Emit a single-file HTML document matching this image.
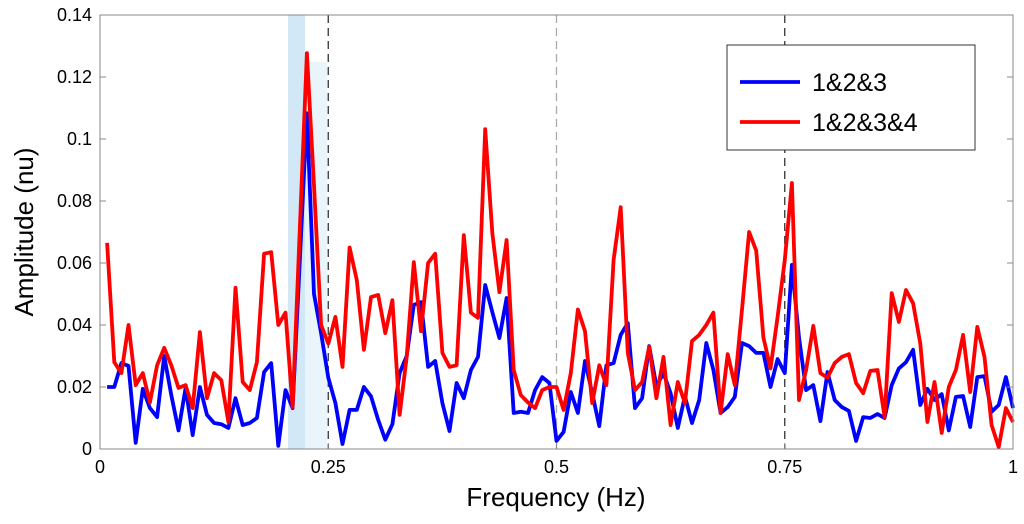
<!DOCTYPE html>
<html><head><meta charset="utf-8"><style>
body{margin:0;background:#fff;width:1024px;height:519px;overflow:hidden;font-family:"Liberation Sans",sans-serif}
</style></head><body>
<svg id="chart" width="1024" height="519" xmlns="http://www.w3.org/2000/svg" font-family="Liberation Sans, sans-serif">
<rect x="100" y="15" width="913" height="434" fill="#fff"/>
<rect x="288" y="15" width="17" height="434" fill="#d3e8f7"/>
<rect x="305" y="62" width="22" height="387" fill="#eaf4fb"/>
<g id="grid"></g>
<g id="series"></g>
<rect x="100" y="15" width="913" height="434" fill="none" stroke="#888" stroke-width="1"/>
<g id="ticks"></g>
<text x="556" y="506" font-size="26" text-anchor="middle">Frequency (Hz)</text>
<text transform="translate(33,232) rotate(-90)" font-size="26" text-anchor="middle">Amplitude (nu)</text>
<g>
<rect x="727" y="45" width="248" height="105" fill="#fff" stroke="#333" stroke-width="1"/>
<line x1="740" y1="82" x2="800" y2="82" stroke="#0000ff" stroke-width="3.8"/>
<text x="812" y="91" font-size="25">1&amp;2&amp;3</text>
<line x1="740" y1="122" x2="800" y2="122" stroke="#ff0000" stroke-width="3.8"/>
<text x="812" y="131" font-size="25">1&amp;2&amp;3&amp;4</text>
</g>
</svg>
<script>
const yTicks=[0,0.02,0.04,0.06,0.08,0.1,0.12,0.14];
const yTickLabels=["0","0.02","0.04","0.06","0.08","0.1","0.12","0.14"];
const xTicks=[0,0.25,0.5,0.75,1];
const xTickLabels=["0","0.25","0.5","0.75","1"];
const markerFreqs=[0.25,0.5,0.75];
const blueValues=[0.020,0.020,0.0277,0.0268,0.002,0.0194,0.0132,0.0103,0.030,0.0174,0.006,0.0197,0.0045,0.020,0.011,0.0084,0.008,0.0068,0.0164,0.0077,0.0084,0.010,0.0248,0.0277,0.001,0.019,0.0132,0.060,0.1083,0.050,0.0374,0.023,0.0148,0.0016,0.0126,0.0126,0.020,0.017,0.0094,0.003,0.008,0.0245,0.030,0.0465,0.0474,0.0265,0.0284,0.0148,0.0058,0.0213,0.0164,0.0255,0.0297,0.0529,0.0442,0.0358,0.0487,0.0116,0.012,0.0116,0.019,0.0232,0.0213,0.0026,0.0055,0.0184,0.0116,0.0284,0.018,0.0074,0.027,0.0277,0.0368,0.0406,0.0132,0.0164,0.0332,0.0203,0.0245,0.018,0.0068,0.017,0.0084,0.0158,0.0342,0.0255,0.0116,0.0135,0.0168,0.0342,0.0332,0.031,0.031,0.020,0.029,0.0245,0.0594,0.036,0.019,0.0206,0.009,0.0248,0.0158,0.0135,0.0123,0.0026,0.0103,0.010,0.0113,0.010,0.0206,0.026,0.028,0.032,0.0142,0.0194,0.0158,0.0177,0.006,0.0168,0.0171,0.0071,0.0232,0.0235,0.012,0.0142,0.0232,0.0132];
const redValues=[0.0665,0.028,0.0245,0.040,0.0206,0.0245,0.015,0.027,0.0326,0.027,0.0197,0.0206,0.0132,0.0377,0.0164,0.0245,0.0222,0.0087,0.052,0.0216,0.019,0.028,0.063,0.0635,0.040,0.044,0.0135,0.070,0.1277,0.085,0.040,0.034,0.0426,0.0265,0.065,0.0545,0.032,0.049,0.0497,0.0374,0.048,0.011,0.0297,0.0603,0.038,0.060,0.063,0.031,0.0265,0.027,0.069,0.044,0.0423,0.1032,0.0697,0.0506,0.0674,0.0255,0.0174,0.015,0.0132,0.019,0.020,0.020,0.0126,0.0245,0.045,0.038,0.0148,0.027,0.0206,0.061,0.078,0.031,0.019,0.0216,0.033,0.0164,0.0297,0.0077,0.0216,0.0148,0.0348,0.0368,0.040,0.044,0.0116,0.0306,0.0206,0.045,0.070,0.064,0.036,0.026,0.0426,0.061,0.0858,0.0158,0.0255,0.0397,0.0245,0.023,0.0277,0.0297,0.0306,0.0213,0.018,0.0252,0.0255,0.0103,0.0503,0.041,0.0513,0.047,0.034,0.0087,0.0216,0.0052,0.020,0.0255,0.0368,0.0184,0.0394,0.0297,0.0077,0.0006,0.0132,0.0087];
const NS="http://www.w3.org/2000/svg";
const X0=100,X1=1013,Y0=449,Y1=15,YMAX=0.14;
function xs(f){return X0+f*(X1-X0);}
function ys(v){return Y0-v/YMAX*(Y0-Y1);}
function mk(t,a,p){const e=document.createElementNS(NS,t);for(const k in a)e.setAttribute(k,a[k]);p.appendChild(e);return e;}
const grid=document.getElementById('grid'),ticks=document.getElementById('ticks'),series=document.getElementById('series');
markerFreqs.forEach((f,i)=>{
  const l=mk('line',{x1:xs(f),x2:xs(f),y1:Y1,y2:Y0,stroke:i===1?'#aaa':'#333','stroke-width':1.3,'stroke-dasharray':'8,5'},grid);
  
  
});
yTicks.forEach((v,i)=>{
  const y=ys(v);
  const a=mk('line',{x1:X0,x2:X0+6,y1:y,y2:y,stroke:'#888'},ticks);
  
  
  const b=mk('line',{x1:X1-6,x2:X1,y1:y,y2:y,stroke:'#888'},ticks);
  
  
  const t=mk('text',{x:92,y:y+6,'font-size':18,'text-anchor':'end'},ticks);
  t.textContent=yTickLabels[i];
  
  
});
xTicks.forEach((f,i)=>{
  const x=xs(f);
  const a=mk('line',{x1:x,x2:x,y1:Y0,y2:Y0-6,stroke:'#888'},ticks);
  
  
  const t=mk('text',{x:x,y:473,'font-size':18,'text-anchor':'middle'},ticks);
  t.textContent=xTickLabels[i];
  
  
});
function path(vals,color,name){
  const d=vals.map((v,i)=>(i?'L':'M')+xs((i+1)/vals.length).toFixed(1)+','+ys(v).toFixed(1)).join('');
  const p=mk('path',{d:d,fill:'none',stroke:color,'stroke-width':3.8,'stroke-linejoin':'round'},series);
  
  
}
path(blueValues,'#0000ff','series-1-2-3-line');
path(redValues,'#ff0000','series-1-2-3-4-line');
</script>
</body></html>
